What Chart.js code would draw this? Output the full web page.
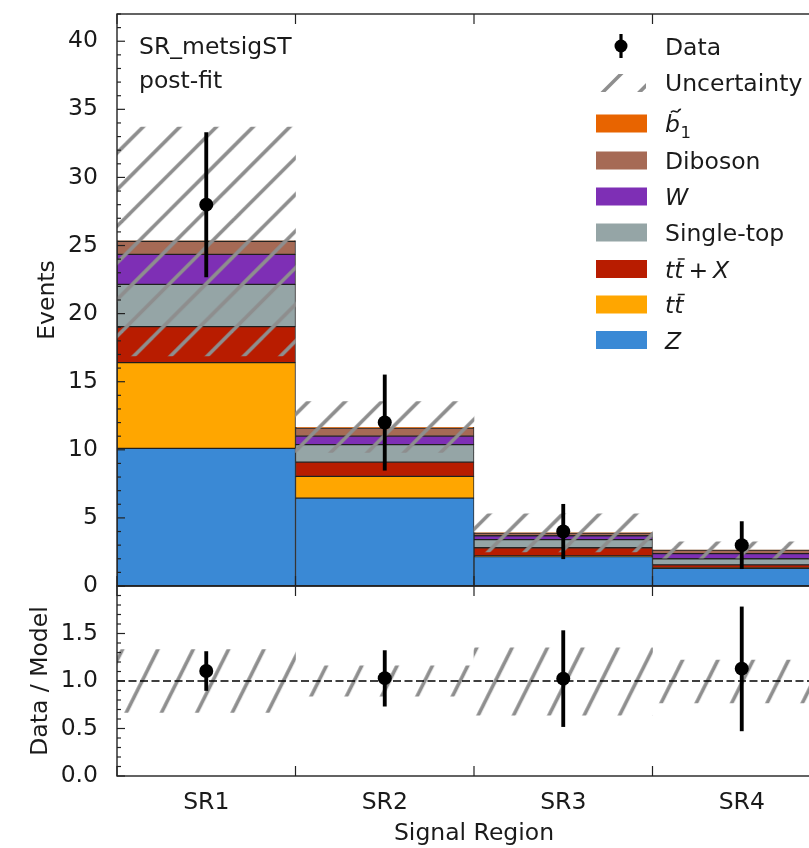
<!DOCTYPE html>
<html>
<head>
<meta charset="utf-8">
<script src="https://cdn.jsdelivr.net/npm/chart.js@4.4.1/dist/chart.umd.min.js"></script>
<style>
  html, body { margin: 0; padding: 0; background: #fff; overflow: hidden; width: 809px; height: 848px; }
  canvas { display: block; }
</style>
</head>
<body>
<canvas id="c" width="840" height="848"></canvas>
<script>
// ---- yields per signal region (post-fit) ----
const regions = ['SR1', 'SR2', 'SR3', 'SR4'];
const zJets     = [10.1, 6.45, 2.16, 1.30];
const ttbar     = [6.3, 1.6, 0.05, 0.03];
const ttbarX    = [2.65, 1.05, 0.6, 0.22];
const singleTop = [3.1, 1.28, 0.6, 0.45];
const wJets     = [2.2, 0.62, 0.28, 0.38];
const diboson   = [0.95, 0.6, 0.2, 0.25];
const sbottom   = [0.07, 0.05, 0.03, 0.03];

const dataCounts  = [28, 12, 4, 3];
const dataErrLow  = [22.7, 8.5, 2.0, 1.27];
const dataErrHigh = [33.3, 15.5, 6.0, 4.73];

// total background uncertainty band
const uncLow  = [16.9, 9.8, 2.5, 2.05];
const uncHigh = [33.7, 13.55, 5.3, 3.25];

// ratio panel
const ratioValues  = [1.105, 1.03, 1.025, 1.13];
const ratioErrLow  = [0.90, 0.735, 0.52, 0.475];
const ratioErrHigh = [1.31, 1.32, 1.53, 1.78];
const ratioUncLow  = [0.67, 0.84, 0.64, 0.77];
const ratioUncHigh = [1.33, 1.16, 1.35, 1.22];

// tick labels
const eventTickValues = [0, 5, 10, 15, 20, 25, 30, 35, 40];
const ratioTickValues = [0, 0.5, 1.0, 1.5];

// ---- styling ----
const FONT = "'DejaVu Sans', 'Liberation Sans', sans-serif";
const FS = 23.5;
const INK = '#1a1a1a';
const COLORS = {
  z: '#3a89d5', ttbar: '#ffa600', ttbarX: '#b81c00', singleTop: '#95a5a6',
  w: '#7e2fb5', diboson: '#a66a55', sbottom: '#e86400'
};
const EDGE = 'rgba(20,20,20,0.9)';
const HATCH = '#8e8e8e';

Chart.defaults.font.family = FONT;
Chart.defaults.font.size = FS;
Chart.defaults.color = INK;

const canvas = document.getElementById('c');
const ctx0 = canvas.getContext('2d');

// diagonal hatch tile: n lines per tile, horizontal period = w/n, slope dy/dx
function makeHatch(w, n, slope, lineWidth, tx) {
  const h = Math.round(w * slope);
  const tile = document.createElement('canvas');
  tile.width = w; tile.height = h;
  const g = tile.getContext('2d');
  g.strokeStyle = HATCH;
  g.lineWidth = lineWidth;
  const p = w / n;
  for (let j = -n - 1; j <= n + 1; j++) {
    const x0 = j * p;
    g.beginPath();
    g.moveTo(x0 - 3, h + 3 * slope);
    g.lineTo(x0 + h / slope + 3, -3 * slope);
    g.stroke();
  }
  const pat = ctx0.createPattern(tile, 'repeat');
  pat.setTransform(new DOMMatrix().translate(tx, 0));
  return pat;
}
const hatchMain = makeHatch(110, 3, 1, 3.6, 13.3);
const hatchRatio = makeHatch(106, 3, 2, 3.6, 23.2);
const hatchLegend = makeHatch(110, 3, 1, 3.6, 35);

function stackBar(label, data, color) {
  return {
    type: 'bar', label, data, yAxisID: 'y', stack: 'bkg', order: 10,
    backgroundColor: color, borderColor: EDGE, borderWidth: 1, borderSkipped: false,
    barPercentage: 1, categoryPercentage: 1, grouped: false
  };
}
const pairs = (lo, hi) => lo.map((v, i) => [v, hi[i]]);

const datasets = [
  stackBar('Z', zJets, COLORS.z),
  stackBar('ttbar', ttbar, COLORS.ttbar),
  stackBar('ttbar+X', ttbarX, COLORS.ttbarX),
  stackBar('Single-top', singleTop, COLORS.singleTop),
  stackBar('W', wJets, COLORS.w),
  stackBar('Diboson', diboson, COLORS.diboson),
  stackBar('sbottom', sbottom, COLORS.sbottom),
  { type: 'bar', label: 'Uncertainty', data: pairs(uncLow, uncHigh), yAxisID: 'y', stack: 'unc', order: 5,
    backgroundColor: hatchMain, borderWidth: 0, barPercentage: 1, categoryPercentage: 1, grouped: false },
  { type: 'bar', label: 'Data error', data: pairs(dataErrLow, dataErrHigh), yAxisID: 'y', stack: 'err', order: 2,
    backgroundColor: '#000', borderWidth: 0, barThickness: 3.2, grouped: false },
  { type: 'line', label: 'Data', data: dataCounts, yAxisID: 'y', stack: 'pts', order: 1, showLine: false,
    pointRadius: 7, pointBackgroundColor: '#000', pointBorderWidth: 0 },
  { type: 'bar', label: 'Ratio uncertainty', data: pairs(ratioUncLow, ratioUncHigh), yAxisID: 'yr', order: 5,
    backgroundColor: hatchRatio, borderWidth: 0, barPercentage: 1, categoryPercentage: 1, grouped: false },
  { type: 'bar', label: 'Ratio error', data: pairs(ratioErrLow, ratioErrHigh), yAxisID: 'yr', order: 2,
    backgroundColor: '#000', borderWidth: 0, barThickness: 3.2, grouped: false },
  { type: 'line', label: 'Ratio', data: ratioValues, yAxisID: 'yr', order: 1, showLine: false,
    pointRadius: 7, pointBackgroundColor: '#000', pointBorderWidth: 0 }
];
const RATIO_UNC_INDEX = 10;

// ---- legend & annotations ----
function drawLegend(ctx) {
  const tx = 665;
  const up = `${FS}px ${FONT}`, it = `italic ${FS}px ${FONT}`;
  ctx.save();
  ctx.fillStyle = INK;
  ctx.textBaseline = 'alphabetic';
  ctx.textAlign = 'left';

  // Data marker
  ctx.strokeStyle = '#000'; ctx.lineWidth = 3.2;
  ctx.beginPath(); ctx.moveTo(621, 34); ctx.lineTo(621, 58); ctx.stroke();
  ctx.fillStyle = '#000';
  ctx.beginPath(); ctx.arc(621, 46, 6.5, 0, Math.PI * 2); ctx.fill();
  ctx.fillStyle = INK; ctx.font = up;
  ctx.fillText('Data', tx, 55);

  // Uncertainty patch
  ctx.fillStyle = hatchLegend;
  ctx.fillRect(598, 74, 48, 18);
  ctx.fillStyle = INK; ctx.font = up;
  ctx.fillText('Uncertainty', tx, 91);

  const rows = [
    { key: 'b1', color: COLORS.sbottom, base: 132 },
    { text: 'Diboson', color: COLORS.diboson, base: 169 },
    { key: 'W', color: COLORS.w, base: 205 },
    { text: 'Single-top', color: COLORS.singleTop, base: 241 },
    { key: 'ttX', color: COLORS.ttbarX, base: 277.5 },
    { key: 'tt', color: COLORS.ttbar, base: 313 },
    { key: 'Z', color: COLORS.z, base: 348.5 }
  ];
  for (const r of rows) {
    ctx.fillStyle = r.color;
    ctx.fillRect(596, r.base - 17.5, 51, 18);
    ctx.fillStyle = INK;
    if (r.text) { ctx.font = up; ctx.fillText(r.text, tx, r.base); continue; }
    drawMath(ctx, r.key, tx, r.base, up, it);
  }
  ctx.restore();
}

function drawMath(ctx, key, x, base, up, it) {
  ctx.font = it;
  if (key === 'W' || key === 'Z') { ctx.fillText(key, x, base); return; }
  if (key === 'b1') {
    ctx.fillText('b', x, base);
    const wb = ctx.measureText('b').width;
    // tilde accent
    ctx.save();
    ctx.strokeStyle = INK; ctx.lineWidth = 1.5;
    const cx = x + wb * 0.6 + 2, cy = base - 21;
    ctx.beginPath();
    ctx.moveTo(cx - 5, cy + 1.5);
    ctx.bezierCurveTo(cx - 2.5, cy - 2.5, cx + 0.5, cy + 2.5, cx + 2, cy + 0.5);
    ctx.bezierCurveTo(cx + 3, cy - 1, cx + 4, cy - 2, cx + 5, cy - 1.5);
    ctx.stroke();
    ctx.restore();
    ctx.font = `${FS * 0.7}px ${FONT}`;
    ctx.fillText('1', x + wb + 0.5, base + 6);
    return;
  }
  // t t-bar [+ X]
  ctx.fillText('t', x, base);
  const wt = ctx.measureText('t').width;
  ctx.fillText('t', x + wt, base);
  ctx.save();
  ctx.strokeStyle = INK; ctx.lineWidth = 1.5;
  ctx.beginPath(); ctx.moveTo(x + wt + 3.5, base - 18.5); ctx.lineTo(x + wt + 10.5, base - 18.5); ctx.stroke();
  ctx.restore();
  if (key === 'ttX') {
    let cx = x + 2 * wt + 5;
    ctx.font = up;
    ctx.fillText('+', cx, base);
    cx += ctx.measureText('+').width + 5;
    ctx.font = it;
    ctx.fillText('X', cx, base);
  }
}

const decor = {
  id: 'decor',
  afterDatasetDraw(chart, args) {
    if (args.index !== RATIO_UNC_INDEX) return;
    const { ctx, scales: { x, yr } } = chart;
    const py = yr.getPixelForValue(1);
    ctx.save();
    ctx.strokeStyle = '#000'; ctx.lineWidth = 1.5;
    ctx.setLineDash([8, 3.5]);
    ctx.beginPath(); ctx.moveTo(x.left, py); ctx.lineTo(x.right, py); ctx.stroke();
    ctx.restore();
  },
  afterDraw(chart) {
    const { ctx, scales: { x, y, yr } } = chart;
    const L = x.left, R = x.right;
    ctx.save();
    ctx.strokeStyle = '#222';
    ctx.lineWidth = 1.4;
    // spines
    ctx.strokeRect(L, y.top, R - L, y.bottom - y.top);
    ctx.strokeRect(L, yr.top, R - L, yr.bottom - yr.top);
    // inward x ticks at bin edges
    ctx.lineWidth = 1.2;
    for (let i = 0; i <= regions.length; i++) {
      const px = x.getPixelForValue(i - 0.5);
      for (const [yy, d] of [[y.top, 1], [y.bottom, -1], [yr.top, 1], [yr.bottom, -1]]) {
        ctx.beginPath(); ctx.moveTo(px, yy); ctx.lineTo(px, yy + d * 10); ctx.stroke();
      }
    }
    // inward y ticks
    const yTick = (scale, v, len) => {
      const py = scale.getPixelForValue(v);
      ctx.beginPath(); ctx.moveTo(L, py); ctx.lineTo(L + len, py); ctx.stroke();
    };
    for (let v = 0; v <= 42; v++) yTick(y, v, v % 5 === 0 ? 8 : 4);
    for (let k = 0; k <= 20; k++) yTick(yr, k / 10, k % 5 === 0 ? 8 : 4);
    ctx.restore();

    // region label
    ctx.save();
    ctx.fillStyle = INK;
    ctx.font = `${FS}px ${FONT}`;
    ctx.textAlign = 'left'; ctx.textBaseline = 'alphabetic';
    ctx.fillText('SR_metsigST', 139, 54);
    ctx.fillText('post-fit', 139, 88);
    ctx.restore();

    drawLegend(ctx);
  }
};

// keep tick-label overhang from shrinking the plotting area
function noOverhang(s) {
  s.paddingTop = 0; s.paddingBottom = 0; s.paddingLeft = 0; s.paddingRight = 0;
}

new Chart(canvas, {
  type: 'bar',
  data: { labels: regions, datasets },
  plugins: [decor],
  options: {
    responsive: false,
    animation: false,
    events: [],
    layout: { padding: { top: 14, right: 9, bottom: 0, left: 0 } },
    plugins: { legend: { display: false }, tooltip: { enabled: false } },
    scales: {
      x: {
        type: 'category', offset: true,
        grid: { display: false, drawTicks: false }, border: { display: false },
        ticks: { padding: 13, color: INK, maxRotation: 0, autoSkip: false },
        title: { display: true, text: 'Signal Region', color: INK, padding: { top: 0, bottom: 0 } },
        afterFit(s) { s.height = 72; noOverhang(s); }
      },
      y: {
        type: 'linear', position: 'left', stack: 'panels', stackWeight: 572, weight: 2,
        stacked: true, min: 0, max: 42,
        grid: { display: false, drawTicks: false }, border: { display: false },
        ticks: { padding: 19, color: INK, includeBounds: false },
        afterBuildTicks(s) { s.ticks = eventTickValues.map(v => ({ value: v })); },
        title: { display: true, text: 'Events', color: INK, padding: { top: 34, bottom: 0 } },
        afterFit(s) { s.width = 117; noOverhang(s); }
      },
      yr: {
        type: 'linear', position: 'left', stack: 'panels', stackWeight: 190, weight: 1,
        min: 0, max: 2,
        grid: { display: false, drawTicks: false }, border: { display: false },
        ticks: { padding: 19, color: INK, includeBounds: false, callback: v => v.toFixed(1) },
        afterBuildTicks(s) { s.ticks = ratioTickValues.map(v => ({ value: v })); },
        title: { display: true, text: 'Data / Model', color: INK, padding: { top: 27, bottom: 0 } },
        afterFit(s) { s.width = 117; noOverhang(s); }
      }
    }
  }
});
</script>
</body>
</html>
